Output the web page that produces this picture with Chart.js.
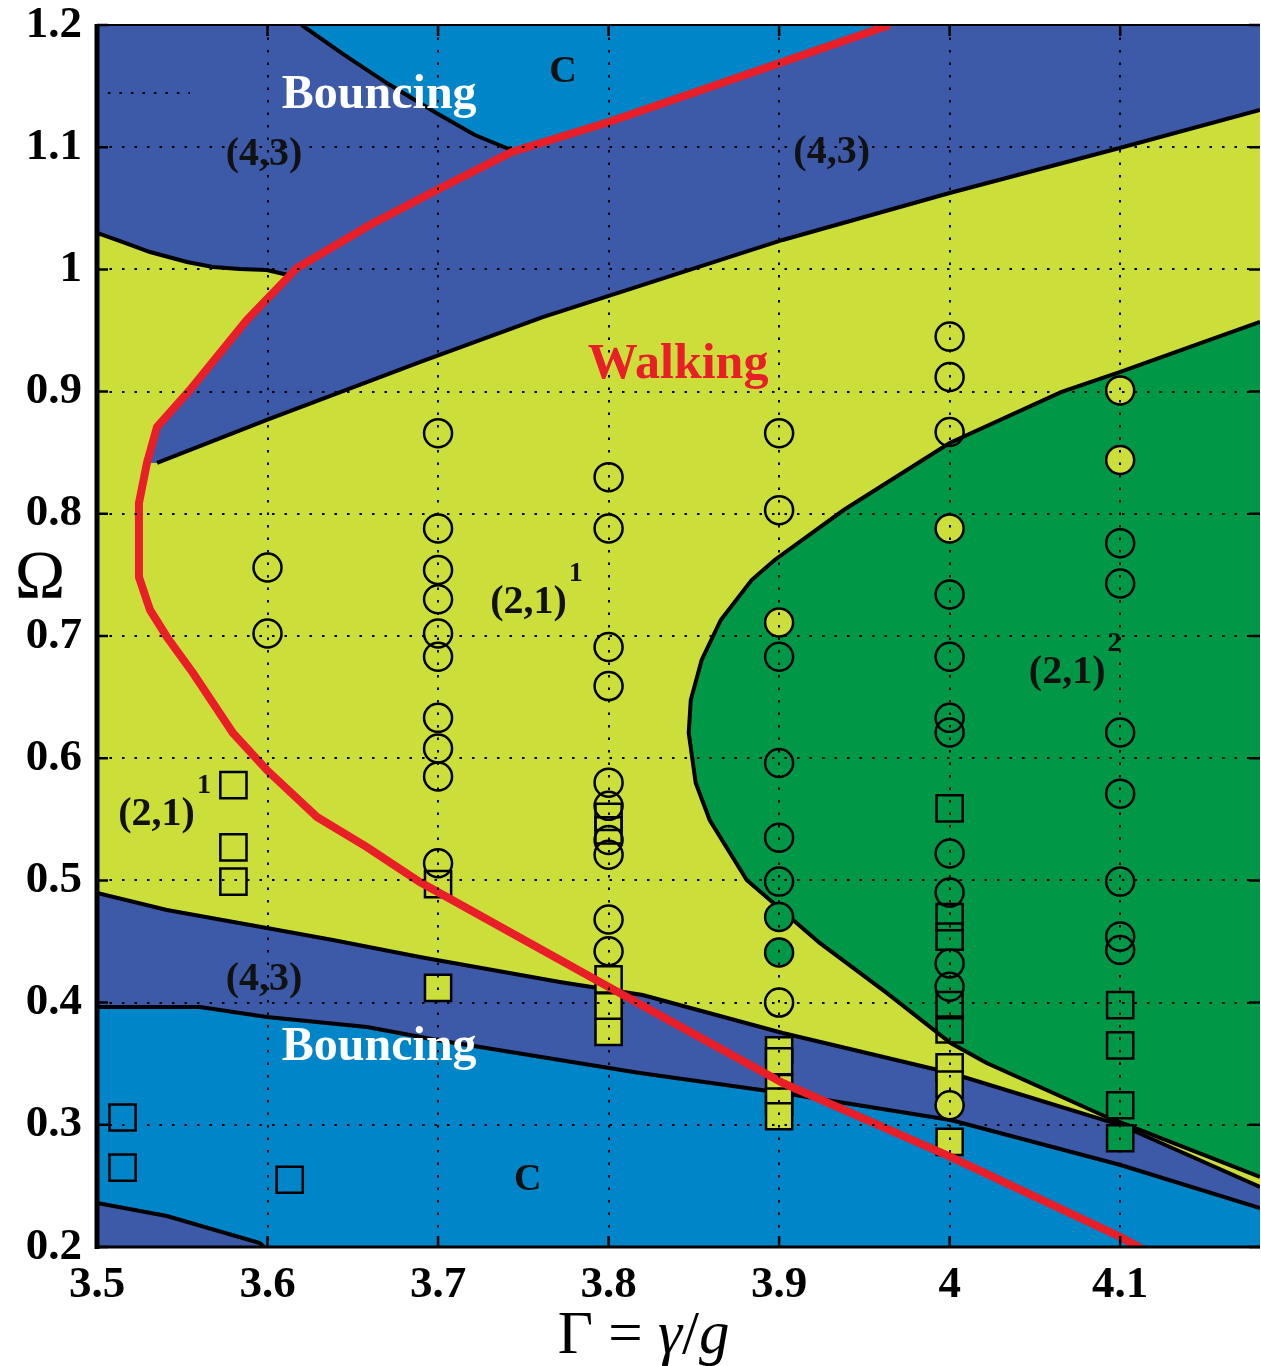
<!DOCTYPE html>
<html>
<head>
<meta charset="utf-8">
<script src="https://cdn.jsdelivr.net/npm/chart.js@4/dist/chart.umd.min.js"></script>
<style>
  html, body { margin: 0; padding: 0; background: #ffffff; }
  #wrap { width: 1261px; height: 1366px; }
</style>
</head>
<body>
<div id="wrap"><canvas id="phase" width="1261" height="1366"></canvas></div>
<script>
// ---- axes -------------------------------------------------------------
const gammaMin = 3.5, gammaMax = 4.182;
const omegaMin = 0.2, omegaMax = 1.2;
const gammaTicks = [3.5, 3.6, 3.7, 3.8, 3.9, 4.0, 4.1];
const gammaTickLabels = ['3.5', '3.6', '3.7', '3.8', '3.9', '4', '4.1'];
const omegaTicks = [0.2, 0.3, 0.4, 0.5, 0.6, 0.7, 0.8, 0.9, 1.0, 1.1, 1.2];
const omegaTickLabels = ['0.2', '0.3', '0.4', '0.5', '0.6', '0.7', '0.8', '0.9', '1', '1.1', '1.2'];

// ---- walking threshold (red curve), from top to bottom ----------------
const thresholdGamma = [3.9648, 3.9021, 3.8001, 3.7433, 3.6993, 3.6600, 3.6172, 3.5879, 3.5545,
  3.5352, 3.5293, 3.5246, 3.5246, 3.5311, 3.5410, 3.5563, 3.5797, 3.5996, 3.6290, 3.6583,
  3.6893, 3.8001, 3.9021, 4.0006, 4.1002, 4.1172];
const thresholdOmega = [1.2000, 1.1697, 1.1206, 1.0961, 1.0650, 1.0363, 1.0011, 0.9586, 0.9013,
  0.8710, 0.8416, 0.8088, 0.7483, 0.7213, 0.6992, 0.6697, 0.6206, 0.5903, 0.5519, 0.5273,
  0.4987, 0.4128, 0.3342, 0.2737, 0.2082, 0.1951];

// ---- regime boundaries [gamma, omega] ---------------------------------
const topChaosEdge = [[3.620, 1.2], [3.645, 1.1755], [3.670, 1.1525], [3.699, 1.128], [3.7216, 1.110], [3.743, 1.0977]];
const topLeftEdge = [[3.5, 1.0298], [3.5152, 1.0224], [3.5311, 1.0142], [3.5528, 1.0061], [3.568, 1.002],
  [3.5838, 1.0003], [3.5996, 0.9995], [3.612, 0.9954]];
const upperBandEdge = [[3.5352, 0.8416], [3.5996, 0.8768], [3.6893, 0.9242], [3.7614, 0.9610],
  [3.9021, 1.0241], [4.0, 1.0625], [4.0997, 1.0993], [4.182, 1.1304]];
const walker2Edge = [[4.182, 0.9571], [4.0997, 0.9160], [4.0657, 0.8997], [4.0, 0.8579], [3.9379, 0.8031],
  [3.8974, 0.7622], [3.8839, 0.7458], [3.8658, 0.7131], [3.8546, 0.6804], [3.8482, 0.6476],
  [3.8470, 0.6206], [3.8511, 0.5797], [3.8593, 0.5494], [3.8810, 0.5003], [3.9238, 0.4488],
  [3.9631, 0.4079], [4.0006, 0.3669], [4.0217, 0.3506], [4.0920, 0.3064], [4.182, 0.2573]];
const lowerBandTop = [[3.5, 0.4897], [3.541, 0.4758], [3.5996, 0.4611], [3.6383, 0.4512], [3.6893, 0.4373],
  [3.7714, 0.4169], [3.8200, 0.4062], [3.9021, 0.3751], [4.0006, 0.3424], [4.1002, 0.2998], [4.182, 0.2491]];
const lowerBandBottom = [[3.5, 0.3964], [3.5604, 0.3964], [3.5996, 0.3882], [3.6583, 0.3800], [3.6993, 0.3694],
  [3.7714, 0.3530], [3.8183, 0.3424], [3.9021, 0.3260], [4.0006, 0.3039], [4.1002, 0.2671], [4.182, 0.2319]];
const cornerEdge = [[3.5, 0.2360], [3.541, 0.2254], [3.5955, 0.2033], [3.598, 0.2]];
const legendStroke = [[3.5064, 1.1444], [3.5545, 1.1444]];

// ---- measurements: [gamma, omega, observed regime] --------------------
// observed: 'w1' walker (2,1)^1, 'w2' walker (2,1)^2, '' as predicted
const circlePoints = [
  [3.6, 0.756, ''], [3.6, 0.702, ''],
  [3.7, 0.866, ''], [3.7, 0.788, ''], [3.7, 0.754, ''], [3.7, 0.730, ''], [3.7, 0.702, ''], [3.7, 0.683, ''],
  [3.7, 0.633, ''], [3.7, 0.608, ''], [3.7, 0.585, ''], [3.7, 0.514, ''],
  [3.8, 0.830, ''], [3.8, 0.788, ''], [3.8, 0.691, ''], [3.8, 0.659, ''], [3.8, 0.580, ''], [3.8, 0.561, ''],
  [3.8, 0.533, ''], [3.8, 0.521, ''], [3.8, 0.468, ''], [3.8, 0.442, ''],
  [3.9, 0.866, ''], [3.9, 0.803, ''], [3.9, 0.711, 'w1'], [3.9, 0.683, ''], [3.9, 0.596, ''], [3.9, 0.535, ''],
  [3.9, 0.499, ''], [3.9, 0.470, 'w2'], [3.9, 0.441, 'w2'], [3.9, 0.400, ''],
  [4.0, 0.945, ''], [4.0, 0.912, ''], [4.0, 0.867, ''], [4.0, 0.788, 'w1'], [4.0, 0.734, ''], [4.0, 0.683, ''],
  [4.0, 0.633, ''], [4.0, 0.621, ''], [4.0, 0.522, ''], [4.0, 0.490, ''], [4.0, 0.432, ''], [4.0, 0.413, ''],
  [4.0, 0.316, 'w1'],
  [4.1, 0.901, 'w1'], [4.1, 0.844, 'w1'], [4.1, 0.776, ''], [4.1, 0.743, ''], [4.1, 0.621, ''], [4.1, 0.571, ''],
  [4.1, 0.499, ''], [4.1, 0.454, ''], [4.1, 0.443, '']
];
const squarePoints = [
  [3.515, 0.306, ''], [3.515, 0.265, ''], [3.613, 0.255, ''],
  [3.58, 0.578, ''], [3.58, 0.527, ''], [3.58, 0.499, ''],
  [3.7, 0.497, ''], [3.7, 0.412, 'w1'],
  [3.8, 0.552, ''], [3.8, 0.541, ''], [3.8, 0.419, 'w1'], [3.8, 0.397, 'w1'], [3.8, 0.376, 'w1'],
  [3.9, 0.361, 'w1'], [3.9, 0.352, 'w1'], [3.9, 0.330, 'w1'], [3.9, 0.319, 'w1'], [3.9, 0.307, 'w1'],
  [4.0, 0.559, ''], [4.0, 0.470, ''], [4.0, 0.454, ''], [4.0, 0.398, ''], [4.0, 0.378, ''],
  [4.0, 0.347, 'w1'], [4.0, 0.333, 'w1'], [4.0, 0.286, 'w1'],
  [4.1, 0.398, ''], [4.1, 0.365, ''], [4.1, 0.316, 'w2'], [4.1, 0.289, 'w2']
];

// ---- region labels ----------------------------------------------------
const labelTexts = ['Bouncing', 'Bouncing', 'Walking', 'C', 'C', '(4,3)', '(4,3)', '(4,3)', '(2,1)', '(2,1)', '(2,1)'];
const labelSups  = ['', '', '', '', '', '', '', '', '1', '1', '2'];
const labelGamma = [3.6084, 3.6084, 3.7878, 3.7732, 3.7526, 3.5979, 3.9308, 3.5979, 3.7755, 3.5574, 4.0914];
const labelOmega = [1.1321, 0.3530, 0.9111, 1.1534, 0.2467, 1.0854, 1.0871, 0.4103, 0.7188, 0.5453, 0.6615];

// ---- colours ----------------------------------------------------------
const COL = {
  walk1: '#cbde3a',
  walk2: '#009846',
  band: '#3c5aa8',
  chaos: '#0085c8',
  red: '#e81e28'
};

const pts = arr => arr.map(([x, y]) => ({ x, y }));
const threshold = thresholdGamma.map((g, i) => [g, thresholdOmega[i]]);

// polygons assembled from the boundaries
const topBandPoly = [[3.5, 1.2], [4.182, 1.2]]
  .concat(upperBandEdge.slice().reverse())
  .concat([threshold[10], threshold[9], threshold[8], threshold[7]])
  .concat(topLeftEdge.slice().reverse());
const topChaosPoly = topChaosEdge.concat([threshold[3], threshold[2], threshold[1], threshold[0]]);
const walker2Poly = walker2Edge.slice();
const lowerBandPoly = lowerBandTop.concat(lowerBandBottom.slice().reverse());
const lowerChaosPoly = lowerBandBottom.concat([[4.182, 0.2], [3.5, 0.2]]);
const cornerPoly = cornerEdge.concat([[3.5, 0.2]]);

const region = (poly, color, order) => ({
  data: pts(poly), backgroundColor: color, borderWidth: 0, pointRadius: 0,
  fill: 'shape', tension: 0, order
});
const edge = (line, order) => ({
  data: pts(line), borderColor: '#000', borderWidth: 4, pointRadius: 0,
  fill: false, tension: 0, order
});
const markFill = r => r === 'w1' ? COL.walk1 : (r === 'w2' ? COL.walk2 : 'rgba(0,0,0,0)');

const datasets = [
  region(topBandPoly, COL.band, 100),
  region(topChaosPoly, COL.chaos, 99),
  region(walker2Poly, COL.walk2, 98),
  region(lowerBandPoly, COL.band, 97),
  region(lowerChaosPoly, COL.chaos, 96),
  region(cornerPoly, COL.band, 95),
  edge(topChaosEdge, 60),
  edge(topLeftEdge, 60),
  edge(upperBandEdge, 60),
  edge(walker2Edge, 60),
  edge(lowerBandTop, 60),
  edge(lowerBandBottom, 60),
  edge(cornerEdge, 60),
  {
    data: pts(legendStroke), borderColor: '#000', borderWidth: 2, borderDash: [2.5, 9],
    pointRadius: 0, fill: false, order: 55
  },
  {
    data: pts(squarePoints), showLine: false, pointStyle: 'rect', pointRadius: 18.5,
    pointBorderWidth: 2.5, pointBorderColor: '#000',
    pointBackgroundColor: squarePoints.map(p => markFill(p[2])), order: 30
  },
  {
    data: pts(circlePoints), showLine: false, pointStyle: 'circle', pointRadius: 14,
    pointBorderWidth: 2.5, pointBorderColor: '#000',
    pointBackgroundColor: circlePoints.map(p => markFill(p[2])), order: 29
  },
  {
    data: pts(threshold), borderColor: COL.red, borderWidth: 8, pointRadius: 0,
    fill: false, tension: 0, order: 10
  }
];

// plot background (the (2,1)^1 walking regime)
const backdrop = {
  id: 'backdrop',
  beforeDatasetsDraw(chart) {
    const { ctx, chartArea: a } = chart;
    ctx.save();
    ctx.fillStyle = COL.walk1;
    ctx.fillRect(a.left, a.top, a.right - a.left, a.bottom - a.top);
    ctx.restore();
  }
};

const serif = '"Liberation Serif", "Times New Roman", serif';

// frame, inward ticks, x tick labels, region labels and axis titles
const overlay = {
  id: 'overlay',
  afterDraw(chart) {
    const { ctx, chartArea: a, scales: { x, y } } = chart;
    ctx.save();
    ctx.strokeStyle = '#000';
    ctx.lineCap = 'butt';
    // frame
    ctx.lineWidth = 5;
    ctx.beginPath(); ctx.moveTo(a.left, a.top - 1); ctx.lineTo(a.left, a.bottom + 2); ctx.stroke();
    ctx.lineWidth = 2;
    ctx.beginPath(); ctx.moveTo(a.left, a.top); ctx.lineTo(a.right, a.top); ctx.stroke();
    ctx.lineWidth = 3;
    ctx.beginPath(); ctx.moveTo(a.left, a.bottom); ctx.lineTo(a.right, a.bottom); ctx.stroke();
    // ticks pointing into the plot
    ctx.lineWidth = 2.5;
    const tl = 11;
    gammaTicks.forEach(v => {
      const px = x.getPixelForValue(v);
      ctx.beginPath();
      ctx.moveTo(px, a.bottom); ctx.lineTo(px, a.bottom - tl);
      ctx.moveTo(px, a.top); ctx.lineTo(px, a.top + tl);
      ctx.stroke();
    });
    omegaTicks.forEach(v => {
      const py = y.getPixelForValue(v);
      ctx.beginPath();
      ctx.moveTo(a.left, py); ctx.lineTo(a.left + tl, py);
      ctx.moveTo(a.right, py); ctx.lineTo(a.right - tl, py);
      ctx.stroke();
    });

    // gamma tick labels
    ctx.fillStyle = '#000';
    ctx.font = `bold 45px ${serif}`;
    ctx.textAlign = 'center';
    ctx.textBaseline = 'alphabetic';
    gammaTicks.forEach((v, i) => {
      ctx.fillText(gammaTickLabels[i], x.getPixelForValue(v), a.bottom + 50);
    });

    // region labels
    const styles = [
      { size: 48, color: '#ffffff', align: 'left' },
      { size: 48, color: '#ffffff', align: 'left' },
      { size: 50, color: COL.red, align: 'left' },
      { size: 38, color: '#111111', align: 'center' },
      { size: 38, color: '#111111', align: 'center' },
      { size: 40, color: '#111111', align: 'center' },
      { size: 40, color: '#111111', align: 'center' },
      { size: 40, color: '#111111', align: 'center' },
      { size: 40, color: '#111111', align: 'right' },
      { size: 40, color: '#111111', align: 'right' },
      { size: 40, color: '#111111', align: 'right' }
    ];
    labelTexts.forEach((t, i) => {
      const s = styles[i];
      const px = x.getPixelForValue(labelGamma[i]);
      const py = y.getPixelForValue(labelOmega[i]);
      ctx.fillStyle = s.color;
      ctx.font = `bold ${s.size}px ${serif}`;
      ctx.textAlign = s.align;
      ctx.fillText(t, px, py);
      if (labelSups[i]) {
        ctx.font = `bold 28px ${serif}`;
        ctx.textAlign = 'left';
        ctx.fillText(labelSups[i], px + 2, py - 32);
      }
    });

    // axis titles
    ctx.fillStyle = '#000';
    ctx.textAlign = 'center';
    ctx.font = `68px ${serif}`;
    ctx.fillText('\u03A9', 40, 597);

    const up = `61px ${serif}`;
    const it = `italic 61px ${serif}`;
    const parts = [['\u0393', up], [' = ', up], ['\u03B3', it], ['/', up], ['g', it]];
    let total = 0;
    parts.forEach(([t, f]) => { ctx.font = f; total += ctx.measureText(t).width; });
    let cx = a.left + (a.right - a.left) * 0.47 - total / 2;
    ctx.textAlign = 'left';
    parts.forEach(([t, f]) => { ctx.font = f; ctx.fillText(t, cx, 1353); cx += ctx.measureText(t).width; });
    ctx.restore();
  }
};

const tickFont = { family: serif, size: 45, weight: 'bold', lineHeight: 1 };
const noPad = s => { s.paddingLeft = 0; s.paddingRight = 0; s.paddingTop = 0; s.paddingBottom = 0; };

new Chart(document.getElementById('phase'), {
  type: 'line',
  data: { datasets },
  options: {
    responsive: false,
    animation: false,
    events: [],
    layout: { autoPadding: false, padding: { top: 25, right: 1, left: 0, bottom: 0 } },
    plugins: { legend: { display: false }, tooltip: { enabled: false } },
    scales: {
      x: {
        type: 'linear', min: gammaMin, max: gammaMax,
        afterBuildTicks: s => { s.ticks = gammaTicks.map(v => ({ value: v })); },
        afterFit: s => { s.height = 119; noPad(s); },
        ticks: { display: false },
        grid: { color: '#000', lineWidth: 2, drawTicks: false, tickLength: 0, z: 1 },
        border: { display: false, dash: [2.5, 10] }
      },
      y: {
        type: 'linear', min: omegaMin, max: omegaMax,
        afterBuildTicks: s => { s.ticks = omegaTicks.map(v => ({ value: v })); },
        afterFit: s => { s.width = 97; noPad(s); },
        ticks: {
          autoSkip: false, padding: 15, color: '#000', font: tickFont,
          callback: (v, i) => omegaTickLabels[i]
        },
        grid: { color: '#000', lineWidth: 2, drawTicks: false, tickLength: 0, z: 1 },
        border: { display: false, dash: [2.5, 10] }
      }
    }
  },
  plugins: [backdrop, overlay]
});
</script>
</body>
</html>
